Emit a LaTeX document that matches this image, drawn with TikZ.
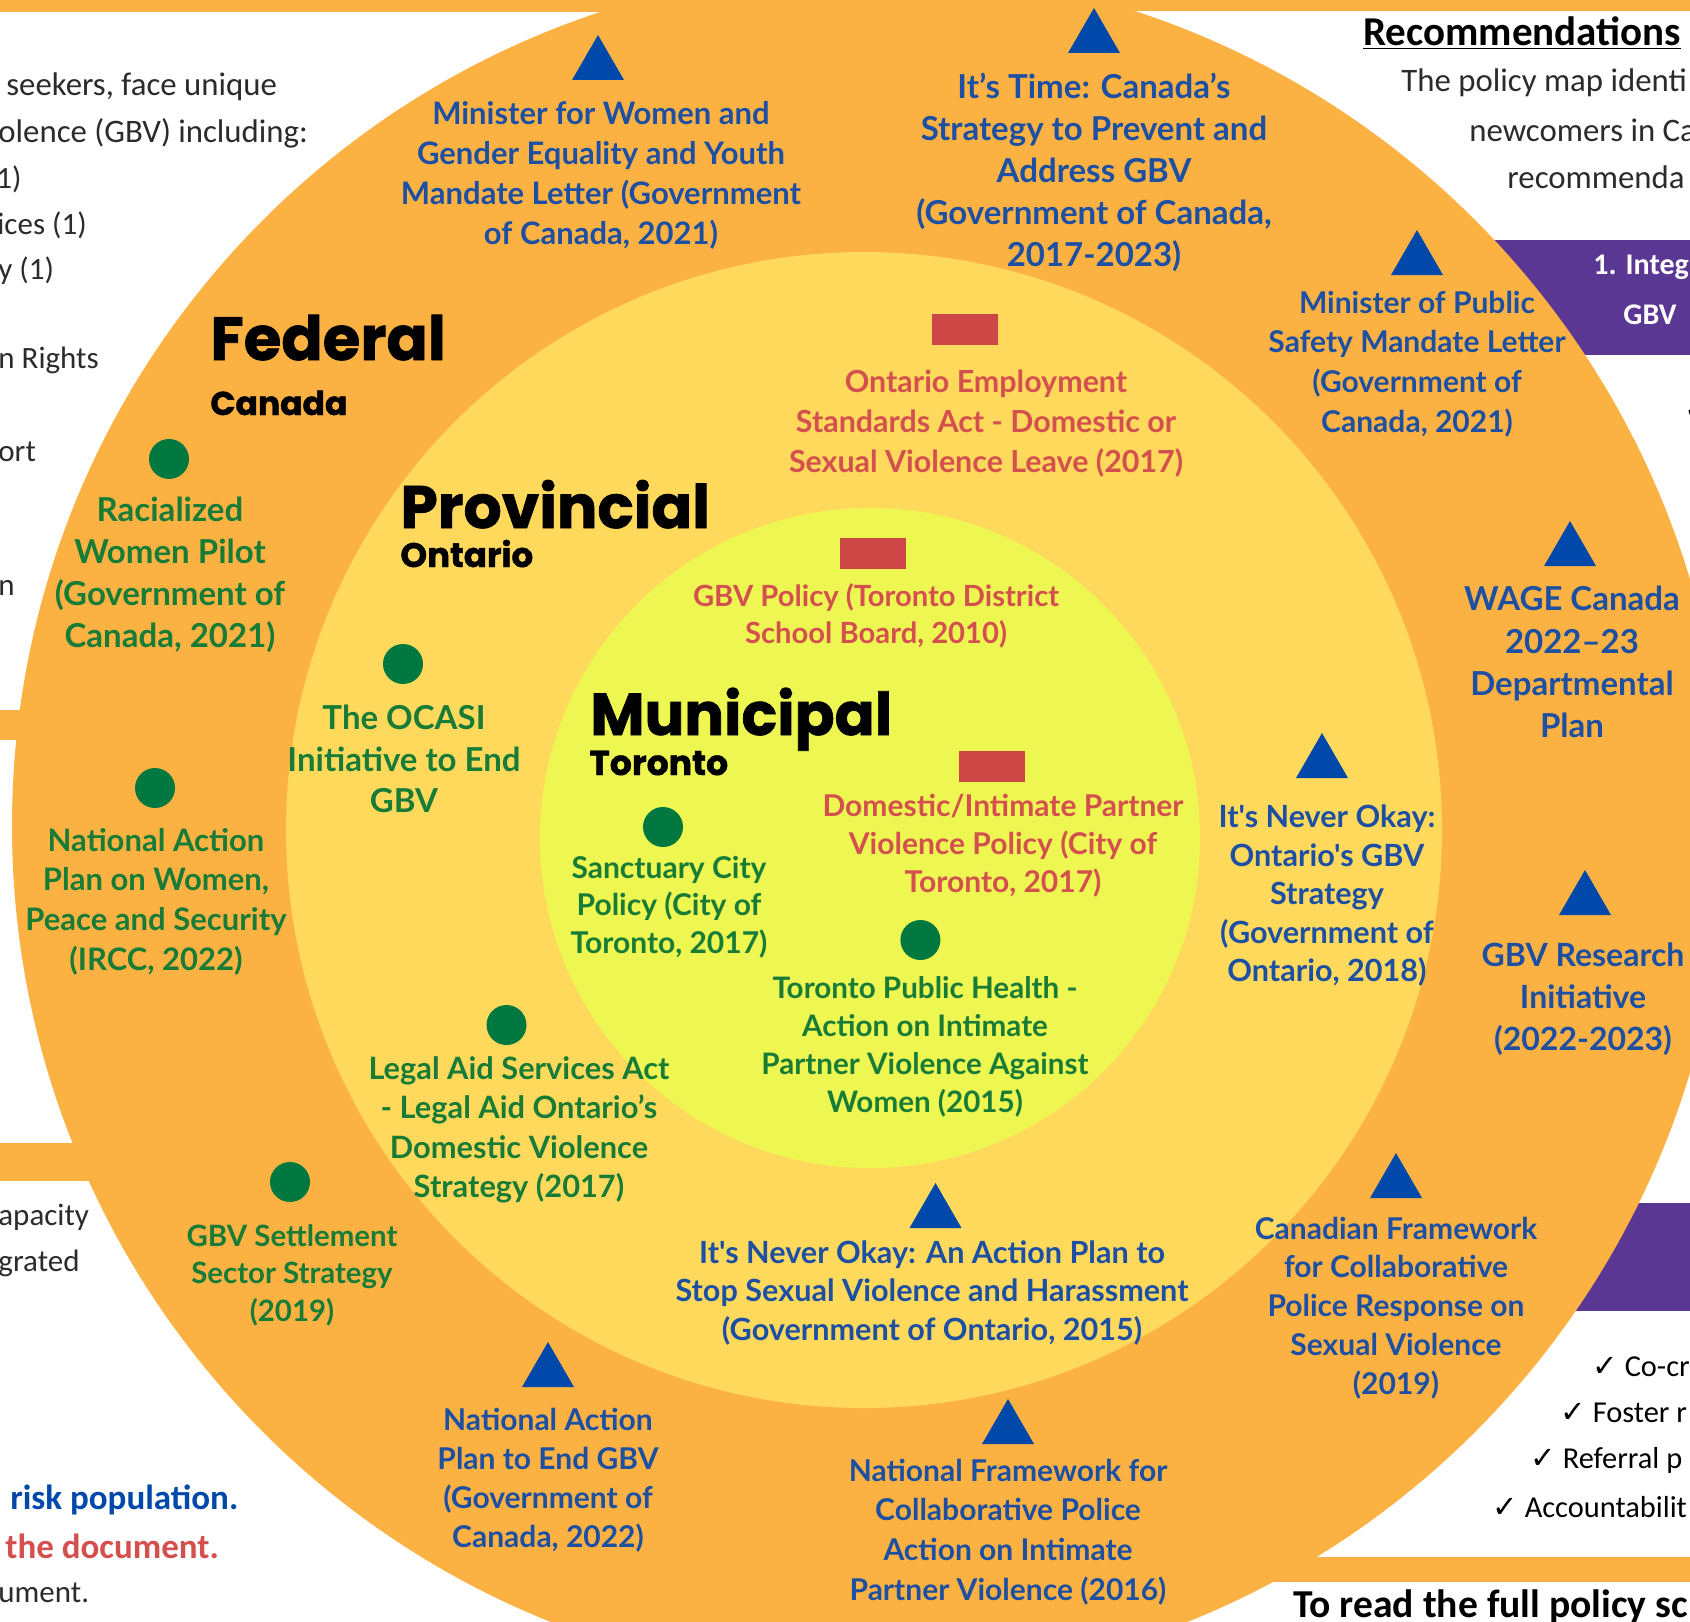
\documentclass[tikz,border=0pt]{standalone}
\usepackage{fontspec}
\setmainfont{Carlito}
\newfontfamily\labfont{Lato}
\newfontfamily\headfont{Poppins}[BoldFeatures={FakeBold=1.2}]
\newfontfamily\symfont{DejaVu Sans}
\usetikzlibrary{shapes.geometric}
\definecolor{orng}{HTML}{FBB242}
\definecolor{provY}{HTML}{FFD95B}
\definecolor{muniY}{HTML}{EEF752}
\definecolor{blueTri}{HTML}{0048AA}
\definecolor{blueTxt}{HTML}{1D4FA3}
\definecolor{greenDot}{HTML}{00783F}
\definecolor{greenTxt}{HTML}{187C37}
\definecolor{redRect}{HTML}{CD4747}
\definecolor{redTxt}{HTML}{D3504F}
\definecolor{purp}{HTML}{5B3794}
\definecolor{dark}{HTML}{2B2B2B}
\begin{document}
\begin{tikzpicture}[x=0.5pt,y=-0.5pt,
  labsz/.style 2 args={font=\labfont\bfseries\fontsize{#1}{#2}\selectfont, align=center, inner sep=0pt},
  bl/.style={text=blueTxt},
  gr/.style={text=greenTxt},
  rd/.style={text=redTxt},
  trimark/.style={regular polygon, regular polygon sides=3, minimum size=30pt, inner sep=0pt, fill=blueTri},
  dotmark/.style={circle, minimum size=20pt, inner sep=0pt, fill=greenDot},
  recmark/.style={rectangle, minimum width=33pt, minimum height=15.5pt, inner sep=0pt, fill=redRect},
  headsz/.style={font=\headfont\bfseries\fontsize{#1}{32}\selectfont, anchor=base west, inner sep=0pt, text=black},
  subhead/.style={font=\headfont\bfseries\fontsize{#1}{18}\selectfont, anchor=base west, inner sep=0pt, text=black},
  body/.style={font=\fontsize{15.5}{18}\selectfont, text=dark, anchor=west, inner sep=0pt},
  bodyl/.style={font=\fontsize{16.4}{18}\selectfont, text=dark, anchor=west, inner sep=0pt},
  bodyb/.style={font=\bfseries\fontsize{17.5}{20}\selectfont, anchor=west, inner sep=0pt},
  chk/.style={font=\fontsize{15.2}{18}\selectfont, text=black, anchor=west, inner sep=0pt}
]
\useasboundingbox (0,0) rectangle (1690,1621);
\clip (0,0) rectangle (1690,1621);
% background and panels
\fill[orng] (0,0) rectangle (1690,1621);
\fill[white] (0,12) rectangle (870,710);
\fill[white] (0,740) rectangle (870,1143);
\fill[white] (0,1181) rectangle (870,1621);
\fill[white] (870,11) rectangle (1690,1557);
\fill[white] (870,1582) rectangle (1690,1621);
\fill[purp] (1400,240) rectangle (1690,355);
\fill[purp] (1400,1203) rectangle (1690,1311);
% rings
\fill[orng] (869,826) circle[radius=428.5pt];
\fill[provY] (864,830) circle[radius=289pt];
\fill[muniY] (870,838) circle[radius=165pt];

% left panel text
\node[bodyl] (p1) at (6,87) {seekers, face unique};
\node[bodyl] (p2) at (-2,133) {olence (GBV) including:};
\node[body] (p3) at (-4,179) {1)};
\node[body] (p4) at (-3,225) {ices (1)};
\node[body] (p5) at (-2,271) {y (1)};
\node[body] (p6) at (-2,360) {n Rights};
\node[body] (p7) at (-2,452) {ort};
\node[body] (p8) at (-2,588) {n};
\node[body] (p9) at (-2,1217) {apacity};
\node[body] (p10) at (-2,1263) {grated};
\node[bodyb, text=blueTri] (p11) at (10,1500) {risk population.};
\node[bodyb, text=redTxt] (p12) at (5,1546) {the document.};
\node[body] (p13) at (-2,1593) {ument.};

% right panel text
\node[font=\bfseries\fontsize{20.5}{22}\selectfont, anchor=west, inner sep=0pt, text=black] (rec) at (1363,33) {\underline{Recommendations}};
\node[bodyl] (r1) at (1401,83) {The policy map identi};
\node[bodyl] (r2) at (1469,130) {newcomers in Ca};
\node[bodyl] (r3) at (1507,177) {recommenda};
\node[font=\bfseries\fontsize{15}{18}\selectfont, anchor=west, inner sep=0pt, text=white] (b1) at (1593,267) {1. Integ};
\node[font=\bfseries\fontsize{15}{18}\selectfont, anchor=west, inner sep=0pt, text=white] (b2) at (1623,315) {GBV};
\node[chk] (c0) at (1684,410) {\symfont ✓};
\node[chk] (c1) at (1592,1367) {{\symfont ✓} Co-cr};
\node[chk] (c2) at (1560,1413) {{\symfont ✓} Foster r};
\node[chk] (c3) at (1530,1460) {{\symfont ✓} Referral p};
\node[chk] (c4) at (1492,1507) {{\symfont ✓} Accountabilit};
\node[font=\bfseries\fontsize{19.8}{22}\selectfont, anchor=base west, inner sep=0pt, text=black] (full) at (1293,1617) {To read the full policy sc};

% headings
\node[headsz=30.5] (hfed) at (210,360) {Federal};
\node[subhead=16.5] (hcan) at (210,415) {Canada};
\node[headsz=30] (hprov) at (400,528) {Provincial};
\node[subhead=17] (hont) at (400,567) {Ontario};
\node[headsz=29.5] (hmun) at (590,735) {Municipal};
\node[subhead=17.3] (htor) at (589,775) {Toronto};

% federal ring
\node[trimark] (t1) at (598,65) {};
\node[labsz={15.5}{20}, bl] (l1) at (601,175) {Minister for Women and\\Gender Equality and Youth\\Mandate Letter (Government\\of Canada, 2021)};
\node[trimark] (t2) at (1094,38) {};
\node[labsz={16.5}{21}, bl] (l2) at (1094,172) {It’s Time: Canada’s\\Strategy to Prevent and\\Address GBV\\(Government of Canada,\\2017-2023)};
\node[trimark] (t3) at (1417,260) {};
\node[labsz={15}{19.85}, bl] (l3) at (1417,364) {Minister of Public\\Safety Mandate Letter\\(Government of\\Canada, 2021)};
\node[trimark] (t4) at (1570,551) {};
\node[labsz={16.5}{21.1}, bl] (l4) at (1572,662) {WAGE Canada\\2022–23\\Departmental\\Plan};
\node[trimark] (t5) at (1585,900) {};
\node[labsz={16}{21}, bl] (l5) at (1583,999) {GBV Research\\Initiative\\(2022-2023)};
\node[trimark] (t6) at (1396,1183) {};
\node[labsz={15}{19.4}, bl] (l6) at (1396,1308) {Canadian Framework\\for Collaborative\\Police Response on\\Sexual Violence\\(2019)};
\node[trimark] (t7) at (1008,1429) {};
\node[labsz={15}{19.85}, bl] (l7) at (1008,1532) {National Framework for\\Collaborative Police\\Action on Intimate\\Partner Violence (2016)};
\node[trimark] (t8) at (548,1372) {};
\node[labsz={15}{19.5}, bl] (l8) at (548,1480) {National Action\\Plan to End GBV\\(Government of\\Canada, 2022)};
\node[dotmark] (d9) at (169,459) {};
\node[labsz={16.5}{21}, gr] (l9) at (170,575) {Racialized\\Women Pilot\\(Government of\\Canada, 2021)};
\node[dotmark] (d10) at (155,788) {};
\node[labsz={15.5}{19.85}, gr] (l10) at (156,901.5) {National Action\\Plan on Women,\\Peace and Security\\(IRCC, 2022)};
\node[dotmark] (d11) at (290,1182) {};
\node[labsz={14.7}{18.75}, gr] (l11) at (292,1275) {GBV Settlement\\Sector Strategy\\(2019)};

% provincial ring
\node[recmark] (r12) at (964.6,329.5) {};
\node[labsz={15.2}{20}, rd] (l12) at (986,424) {Ontario Employment\\Standards Act - Domestic or\\Sexual Violence Leave (2017)};
\node[dotmark] (d13) at (403,664) {};
\node[labsz={16.5}{20.75}, gr] (l13) at (404,759) {The OCASI\\Initiative to End\\GBV};
\node[dotmark] (d14) at (506.5,1025) {};
\node[labsz={15.4}{19.75}, gr] (l14) at (519,1130) {Legal Aid Services Act\\- Legal Aid Ontario’s\\Domestic Violence\\Strategy (2017)};
\node[trimark] (t15) at (1322,763) {};
\node[labsz={15.3}{19.25}, bl] (l15) at (1327,896) {It's Never Okay:\\Ontario's GBV\\Strategy\\(Government of\\Ontario, 2018)};
\node[trimark] (t16) at (935.5,1213) {};
\node[labsz={15.3}{19.25}, bl] (l16) at (932,1293) {It's Never Okay: An Action Plan to\\Stop Sexual Violence and Harassment\\(Government of Ontario, 2015)};

% municipal circle
\node[recmark] (r17) at (872.5,553.5) {};
\node[labsz={14.6}{18.5}, rd] (l17) at (876,615.5) {GBV Policy (Toronto District\\School Board, 2010)};
\node[recmark] (r18) at (991.7,766) {};
\node[labsz={15}{19}, rd] (l18) at (1003,846) {Domestic/Intimate Partner\\Violence Policy (City of\\Toronto, 2017)};
\node[dotmark] (d19) at (663,827) {};
\node[labsz={15}{18.75}, gr] (l19) at (669,907) {Sanctuary City\\Policy (City of\\Toronto, 2017)};
\node[dotmark] (d20) at (920.4,940) {};
\node[labsz={14.8}{19}, gr] (l20) at (925,1047) {Toronto Public Health -\\Action on Intimate\\Partner Violence Against\\Women (2015)};
\end{tikzpicture}
\end{document}
